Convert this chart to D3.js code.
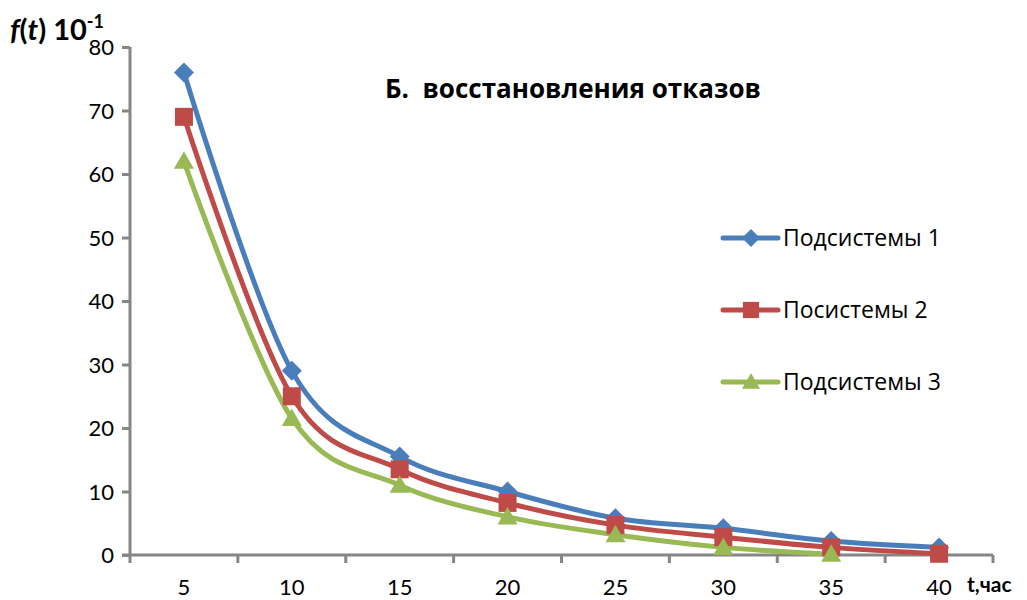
<!DOCTYPE html>
<html>
<head>
<meta charset="utf-8">
<script src="https://cdn.jsdelivr.net/npm/d3@7"></script>
<style>
  body { margin: 0; background: #fff; }
  text { font-family: Lato, "Open Sans", sans-serif; fill: #000; }
  .wide { font-family: "Open Sans", sans-serif; white-space: pre; }
</style>
</head>
<body>
<svg id="chart" width="1027" height="600"></svg>
<script>
// categories (hours)
const hours = [5, 10, 15, 20, 25, 30, 35, 40];
const yTicks = [0, 10, 20, 30, 40, 50, 60, 70, 80];

// series values, f(t) x 10^-1
const sub1 = [76, 29, 15.5, 10, 5.8, 4.2, 2.2, 1.2];
const sub2 = [69, 25, 13.5, 8.2, 4.7, 2.8, 1.2, 0.2];
const sub3 = [62, 21.5, 11, 6, 3.2, 1.2, 0.1];

const seriesNames = ["Подсистемы 1", "Посистемы 2", "Подсистемы 3"];
const colors = ["#4A7EBB", "#BE4B48", "#98B954"];
const shapes = ["diamond", "square", "triangle"];

const series = [sub1, sub2, sub3].map((vals, i) => ({
    name: seriesNames[i],
    color: colors[i],
    shape: shapes[i],
    values: vals.map((v, j) => ({ x: hours[j], y: v }))
}));

const svg = d3.select("#chart");
const margin = { left: 130, top: 47, right: 34, bottom: 45 };
const width = 1027 - margin.left - margin.right;
const height = 600 - margin.top - margin.bottom;

const g = svg.append("g").attr("transform", `translate(${margin.left},${margin.top})`);

const xScale = d3.scaleBand().domain(hours).range([0, width]);
const yScale = d3.scaleLinear().domain([0, 80]).range([height, 0]);

const axisColor = "#868686";

// y axis
const yAxis = g.append("g")
    .call(d3.axisLeft(yScale).tickValues(yTicks).tickSize(8).tickPadding(8));
yAxis.select(".domain").attr("stroke", axisColor).attr("stroke-width", 3)
    .attr("d", `M0,${height}V0`);
yAxis.selectAll(".tick line").attr("stroke", axisColor).attr("stroke-width", 3);
yAxis.selectAll(".tick text").style("font-size", "22px").attr("dy", "0.36em");

// x axis: ticks sit between categories
const xAxis = g.append("g").attr("transform", `translate(0,${height})`);
xAxis.append("line")
    .attr("x1", -8).attr("x2", width)
    .attr("stroke", axisColor).attr("stroke-width", 3);
const bounds = d3.range(hours.length + 1).map(i => i * xScale.step());
xAxis.selectAll(".xtick").data(bounds).enter().append("line")
    .attr("x1", d => d).attr("x2", d => d)
    .attr("y1", 0).attr("y2", 8)
    .attr("stroke", axisColor).attr("stroke-width", 3);
xAxis.selectAll(".xlabel").data(hours).enter().append("text")
    .attr("x", d => xScale(d) + xScale.bandwidth() / 2)
    .attr("y", 40)
    .attr("text-anchor", "middle")
    .style("font-size", "22px")
    .text(d => d);

xAxis.append("text")
    .attr("x", width - 26).attr("y", 37)
    .style("font-size", "21px").style("font-weight", "bold")
    .text("t,час");

// lines
const line = d3.line()
    .x(d => xScale(d.x) + xScale.bandwidth() / 2)
    .y(d => yScale(d.y))
    .curve(d3.curveCardinal.tension(0));

function markerPath(shape, s) {
    if (shape === "diamond") return `M0,${-s}L${s},0L0,${s}L${-s},0Z`;
    if (shape === "square") return `M${-s * 0.9},${-s * 0.9}H${s * 0.9}V${s * 0.9}H${-s * 0.9}Z`;
    return `M0,${-s}L${s},${s * 0.75}L${-s},${s * 0.75}Z`;
}

series.forEach(sr => {
    g.append("path")
        .datum(sr.values)
        .attr("fill", "none")
        .attr("stroke", sr.color)
        .attr("stroke-width", 5)
        .attr("stroke-linecap", "round")
        .attr("d", line);
});

series.forEach(sr => {
    g.selectAll(null).data(sr.values).enter().append("path")
        .attr("transform", d => `translate(${xScale(d.x) + xScale.bandwidth() / 2},${yScale(d.y)})`)
        .attr("d", markerPath(sr.shape, 10))
        .attr("fill", sr.color);
});

// title
svg.append("text")
    .attr("class", "wide")
    .attr("x", 385).attr("y", 98)
    .style("font-size", "26px").style("font-weight", "bold")
    .text("Б.  восстановления отказов");

// y label
const yl = svg.append("text").attr("x", 10).attr("y", 40)
    .style("font-size", "29px").style("font-weight", "bold");
yl.append("tspan").style("font-style", "italic").text("f");
yl.append("tspan").text("(");
yl.append("tspan").style("font-style", "italic").text("t");
yl.append("tspan").text(") 10");
yl.append("tspan").attr("dy", -12).style("font-size", "18px").text("-1");

// legend
const legend = svg.append("g").attr("transform", "translate(723,238)");
series.forEach((sr, i) => {
    const row = legend.append("g").attr("transform", `translate(0,${i * 72})`);
    row.append("line").attr("x1", 0).attr("x2", 55)
        .attr("stroke", sr.color).attr("stroke-width", 5).attr("stroke-linecap", "round");
    row.append("path").attr("transform", "translate(28,0)")
        .attr("d", markerPath(sr.shape, 9)).attr("fill", sr.color);
    row.append("text").attr("class", "wide").attr("x", 60).attr("y", 8)
        .style("font-size", "23px").text(sr.name);
});
</script>
</body>
</html>
